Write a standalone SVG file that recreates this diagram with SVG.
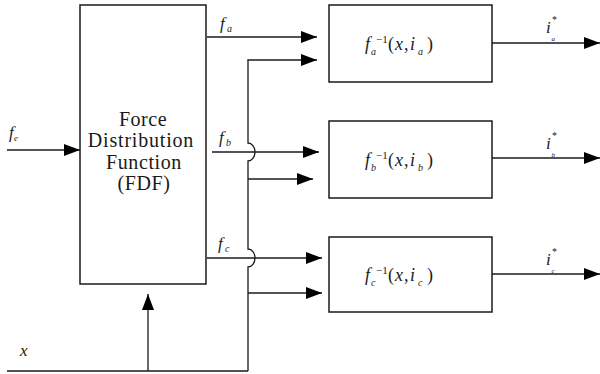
<svg xmlns="http://www.w3.org/2000/svg" width="600" height="374" viewBox="0 0 600 374">
  <style>
    .box { fill: #ffffff; stroke: #1a1a1a; stroke-width: 1.5; }
    .wire { fill: none; stroke: #1a1a1a; stroke-width: 1.3; }
    .arrow { marker-end: url(#head); }
    .lbl { font-family: "Liberation Serif", "Times New Roman", serif; fill: #1a1a1a; }
    .it { font-style: italic; }
    .fdf { font-family: "Liberation Serif", "Times New Roman", serif; font-size: 20px; fill: #1a1a1a; text-anchor: middle; }
  </style>
  <defs>
    <marker id="head" markerUnits="userSpaceOnUse" markerWidth="16" markerHeight="12" refX="16" refY="6" orient="auto">
      <path d="M0,0 L16,6 L0,12 z" fill="#000000"/>
    </marker>
  </defs>

  <rect width="600" height="374" fill="#ffffff"/>

  <!-- connectors -->
  <g id="connectors">
    <!-- external force demand into the FDF -->
    <line class="wire arrow" x1="7" y1="150" x2="80" y2="150"/>
    <!-- force outputs of the FDF -->
    <line class="wire arrow" x1="207" y1="37" x2="317" y2="37"/>
    <line class="wire arrow" x1="212" y1="152" x2="319" y2="152"/>
    <line class="wire arrow" x1="207" y1="258" x2="322" y2="258"/>
    <!-- position bus: x line, feed to FDF and riser with hops -->
    <line class="wire" x1="7" y1="371" x2="248" y2="371"/>
    <line class="wire arrow" x1="148" y1="371" x2="148" y2="294"/>
    <path class="wire" d="M248,371 L248,267 A7,9 0 0 0 248,249 L248,161 A7,9 0 0 0 248,143 L248,60"/>
    <line class="wire arrow" x1="247.4" y1="60" x2="317" y2="60"/>
    <line class="wire arrow" x1="248" y1="179" x2="313" y2="179"/>
    <line class="wire arrow" x1="248" y1="293" x2="322" y2="293"/>
    <!-- current references out of the inverse blocks -->
    <line class="wire arrow" x1="492" y1="43" x2="600" y2="43"/>
    <line class="wire arrow" x1="492" y1="158" x2="600" y2="158"/>
    <line class="wire arrow" x1="492" y1="274" x2="600" y2="274"/>
  </g>

  <!-- Force Distribution Function -->
  <g id="fdf">
    <rect class="box" x="80" y="5" width="126" height="279"/>
    <text class="fdf" x="143" y="126" letter-spacing="0.5">Force</text>
    <text class="fdf" x="141" y="147" letter-spacing="0.8">Distribution</text>
    <text class="fdf" x="144" y="168.5" letter-spacing="0.6">Function</text>
    <text class="fdf" x="144" y="190" letter-spacing="0.6">(FDF)</text>
  </g>

  <!-- inverse force models, phase a/b/c -->
  <g id="inv-a">
    <rect class="box" x="329" y="5" width="163" height="77"/>
    <text class="lbl"><tspan class="it" x="365" y="50" font-size="18">f</tspan><tspan class="it" x="371" y="55" font-size="10">a</tspan><tspan x="376" y="43" font-size="11">−1</tspan><tspan x="388" y="50" font-size="18">(</tspan><tspan class="it" x="395" y="50" font-size="18">x</tspan><tspan x="404" y="50" font-size="18">,</tspan><tspan class="it" x="410" y="50" font-size="18">i</tspan><tspan class="it" x="418" y="55" font-size="10">a</tspan><tspan x="427" y="50" font-size="18">)</tspan></text>
  </g>
  <g id="inv-b">
    <rect class="box" x="329" y="121" width="163" height="77"/>
    <text class="lbl"><tspan class="it" x="365" y="165.5" font-size="18">f</tspan><tspan class="it" x="371" y="170.5" font-size="10">b</tspan><tspan x="376" y="158.5" font-size="11">−1</tspan><tspan x="388" y="165.5" font-size="18">(</tspan><tspan class="it" x="395" y="165.5" font-size="18">x</tspan><tspan x="404" y="165.5" font-size="18">,</tspan><tspan class="it" x="410" y="165.5" font-size="18">i</tspan><tspan class="it" x="418" y="170.5" font-size="10">b</tspan><tspan x="427" y="165.5" font-size="18">)</tspan></text>
  </g>
  <g id="inv-c">
    <rect class="box" x="329" y="237" width="163" height="75"/>
    <text class="lbl"><tspan class="it" x="365" y="281" font-size="18">f</tspan><tspan class="it" x="371" y="286" font-size="10">c</tspan><tspan x="376" y="274" font-size="11">−1</tspan><tspan x="388" y="281" font-size="18">(</tspan><tspan class="it" x="395" y="281" font-size="18">x</tspan><tspan x="404" y="281" font-size="18">,</tspan><tspan class="it" x="410" y="281" font-size="18">i</tspan><tspan class="it" x="418" y="286" font-size="10">c</tspan><tspan x="427" y="281" font-size="18">)</tspan></text>
  </g>

  <!-- signal labels -->
  <g id="labels">
    <text class="lbl"><tspan class="it" x="9" y="138" font-size="17">f</tspan><tspan class="it" x="14" y="141" font-size="9">e</tspan></text>
    <text class="lbl"><tspan class="it" x="20" y="356" font-size="17">x</tspan></text>
    <text class="lbl"><tspan class="it" x="220" y="29" font-size="17">f</tspan><tspan class="it" x="227" y="32" font-size="10">a</tspan></text>
    <text class="lbl"><tspan class="it" x="219" y="143" font-size="17">f</tspan><tspan class="it" x="226" y="146" font-size="10">b</tspan></text>
    <text class="lbl"><tspan class="it" x="218" y="249" font-size="17">f</tspan><tspan class="it" x="225" y="252" font-size="10">c</tspan></text>

    <text class="lbl"><tspan class="it" x="546" y="33" font-size="17">i</tspan><tspan x="552" y="23" font-size="10">*</tspan><tspan class="it" x="551.5" y="41" font-size="7">a</tspan></text>
    <text class="lbl"><tspan class="it" x="546" y="149" font-size="17">i</tspan><tspan x="552" y="139" font-size="10">*</tspan><tspan class="it" x="551.5" y="157" font-size="7">b</tspan></text>
    <text class="lbl"><tspan class="it" x="546" y="265" font-size="17">i</tspan><tspan x="552" y="255" font-size="10">*</tspan><tspan class="it" x="551.5" y="273" font-size="7">c</tspan></text>
  </g>
</svg>
